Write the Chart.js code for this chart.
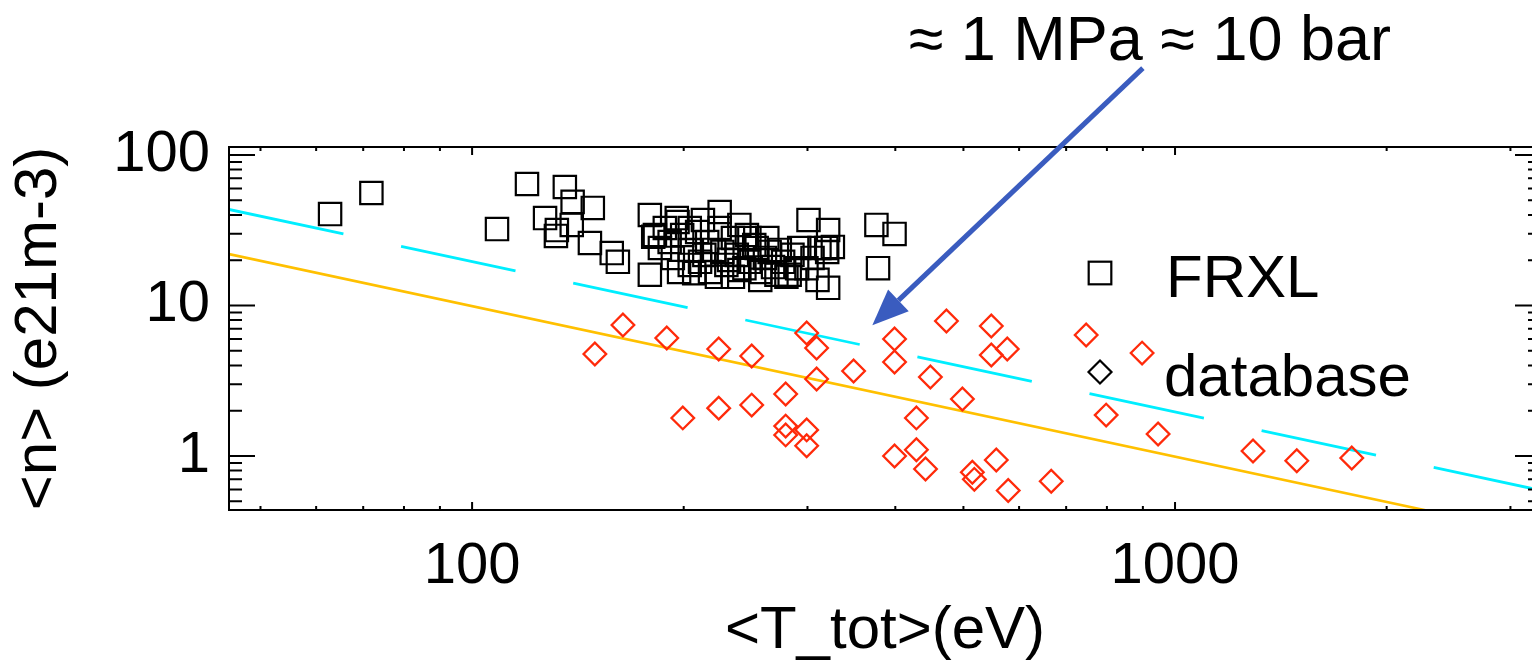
<!DOCTYPE html>
<html>
<head>
<meta charset="utf-8">
<script src="https://cdn.jsdelivr.net/npm/chart.js@4.4.1/dist/chart.umd.min.js"></script>
<style>
  html, body { margin: 0; padding: 0; background: #fff; }
  #wrap { width: 1532px; height: 667px; }
</style>
</head>
<body>
<div id="wrap"><canvas id="plot"></canvas></div>
<script>
// FRXL shots: <T_tot> in eV, <n> in 1e21 m^-3
const frxlT = [62.8, 71.9, 108.5, 119.7, 135.5, 127, 132, 131.6, 139, 148.5, 138.6, 147.1, 158, 161.2, 179, 179,
  181, 195.5, 225, 204, 263, 285.6, 301, 321, 326, 320, 312, 310, 321, 376, 399, 378,
  182, 185, 191, 193, 199, 204, 209, 211, 216, 218, 225, 227, 230, 235, 238, 240, 246, 248, 254, 257,
  265, 268, 271, 277, 280, 290, 197, 207, 223, 235, 196, 188, 213, 240, 248, 292, 299, 305, 319,
  214, 221, 232, 244, 252, 261, 274, 283, 204, 257];
const frxlN = [40.5, 55.9, 32.2, 64.2, 61.3, 38.1, 31.7, 29.0, 48.8, 44.5, 34.3, 26.0, 22.3, 19.5, 39.9, 16.0,
  28.6, 38.1, 41.8, 32.7, 28.1, 21.7, 37.0, 31.7, 24.5, 22.7, 24.1, 14.8, 13.1, 34.3, 29.9, 17.7,
  29.4, 24.1, 26.4, 20.7, 29.4, 23.4, 30.8, 19.5, 26.4, 16.7, 32.7, 22.7, 18.6, 28.1, 21.7, 17.2, 29.4, 19.5, 24.1, 16.7,
  22.7, 18.0, 16.0, 19.5, 15.5, 17.7, 16.7, 16.4, 15.5, 15.5, 35.9, 32.7, 37.0, 34.3, 28.1, 24.1, 17.7, 20.7, 24.1,
  21.7, 23.4, 20.1, 17.7, 25.2, 20.7, 23.4, 16.0, 18.6, 14.8];

// database shots
const dbT = [149.5, 163.9, 189.2, 199.4, 224.3, 224.3, 249.9, 249.9, 279.3, 279.3, 279.3, 299.2, 309.1, 309.1,
  299.2, 299.2, 348.9, 399, 399, 399, 428.6, 428.6, 441.6, 448.7, 472.9, 498.3, 514.8, 518.2, 547.8, 547.8,
  577.2, 556.8, 579, 666.6, 747.4, 798, 897.7, 946, 1291, 1490, 1784];
const dbN = [4.76, 7.42, 6.08, 1.79, 5.14, 2.08, 4.62, 2.18, 2.58, 1.58, 1.38, 6.56, 5.22, 3.25,
  1.49, 1.17, 3.67, 5.99, 4.21, 1.0, 1.79, 1.10, 0.82, 3.35, 7.89, 2.39, 0.78, 0.70, 7.31, 4.69,
  5.14, 0.94, 0.59, 0.68, 6.37, 1.87, 4.83, 1.40, 1.08, 0.93, 0.97];

// constant n*T lines, end points at the axis limits
const isobarT = [45.1, 3316];
const isobarLowN = [21.95, 0.2986];
const isobarHighN = [43.46, 0.591];

// axes
const xRange = [45.1, 3316];
const yRange = [0.4377, 113];
const xMajor = [100, 1000];
const xMinor = [50, 60, 70, 80, 90, 200, 300, 400, 500, 600, 700, 800, 900, 2000, 3000];
const yMajor = [1, 10, 100];
const yMinor = [0.5, 0.6, 0.7, 0.8, 0.9, 2, 3, 4, 5, 6, 7, 8, 9, 20, 30, 40, 50, 60, 70, 80, 90];

// annotation arrow (data coordinates)
const arrowFrom = { x: 900, y: 378 };
const arrowTo = { x: 371, y: 7.4 };
const arrowText = '\u2248 1 MPa \u2248 10 bar';

const FONT = '"Liberation Sans", Arial, Helvetica, sans-serif';
const RED = '#ff2a0a';
const BLUE = '#3a5cbf';
const FRAME_OVERHANG = 9;   // right side of the box runs just past the canvas edge
Chart.defaults.font.family = FONT;
Chart.defaults.color = '#000';

const pts = (xs, ys) => xs.map((x, i) => ({ x: x, y: ys[i] }));

function square(ctx, x, y, r) {
  const h = r * Math.SQRT1_2;
  ctx.strokeRect(x - h, y - h, 2 * h, 2 * h);
}
function diamond(ctx, x, y, r) {
  ctx.beginPath();
  ctx.moveTo(x - r, y); ctx.lineTo(x, y - r); ctx.lineTo(x + r, y); ctx.lineTo(x, y + r);
  ctx.closePath();
  ctx.stroke();
}

// box with inward IDL-style ticks on all four sides
const frame = {
  id: 'frame',
  afterLayout(chart) {
    const a = chart.chartArea, x = chart.scales.x;
    a.right += FRAME_OVERHANG;
    a.width = a.right - a.left;
    x.right = a.right;
    x.width = x.right - x.left;
    x.configure();
  },
  afterDatasetsDraw(chart) {
    const { ctx, chartArea: a, scales: { x, y } } = chart;
    ctx.save();
    ctx.strokeStyle = '#000';
    ctx.lineWidth = 2;
    ctx.strokeRect(a.left, a.top, a.right - a.left, a.bottom - a.top);
    ctx.beginPath();
    const xt = (v, len) => {
      const px = x.getPixelForValue(v);
      ctx.moveTo(px, a.bottom); ctx.lineTo(px, a.bottom - len);
      ctx.moveTo(px, a.top); ctx.lineTo(px, a.top + len);
    };
    const yt = (v, len) => {
      const py = y.getPixelForValue(v);
      ctx.moveTo(a.left, py); ctx.lineTo(a.left + len, py);
      ctx.moveTo(a.right, py); ctx.lineTo(a.right - len, py);
    };
    xMajor.forEach(v => xt(v, 8));
    xMinor.forEach(v => xt(v, 4));
    yMajor.forEach(v => yt(v, 26));
    yMinor.forEach(v => yt(v, 13));
    ctx.stroke();
    ctx.restore();
  },
  afterDraw(chart) {
    const { ctx, scales: { x, y } } = chart;
    ctx.save();
    // legend
    ctx.lineWidth = 2.2;
    ctx.strokeStyle = '#000';
    square(ctx, 1100, 273, 16);
    diamond(ctx, 1100, 372, 11.5);
    ctx.fillStyle = '#000';
    ctx.font = '60px ' + FONT;
    ctx.textAlign = 'left';
    ctx.textBaseline = 'alphabetic';
    ctx.fillText('FRXL', 1166, 297);
    ctx.fillText('database', 1164, 396);

    // pressure annotation with arrow
    const x0 = x.getPixelForValue(arrowFrom.x), y0 = y.getPixelForValue(arrowFrom.y);
    const x1 = x.getPixelForValue(arrowTo.x), y1 = y.getPixelForValue(arrowTo.y);
    const ang = Math.atan2(y1 - y0, x1 - x0);
    const headLen = 36, headW = 15;
    const bx = x1 - headLen * Math.cos(ang), by = y1 - headLen * Math.sin(ang);
    ctx.strokeStyle = BLUE;
    ctx.fillStyle = BLUE;
    ctx.lineWidth = 5;
    ctx.beginPath();
    ctx.moveTo(x0, y0); ctx.lineTo(bx, by);
    ctx.stroke();
    ctx.beginPath();
    ctx.moveTo(x1, y1);
    ctx.lineTo(bx + headW * Math.sin(ang), by - headW * Math.cos(ang));
    ctx.lineTo(bx - headW * Math.sin(ang), by + headW * Math.cos(ang));
    ctx.closePath();
    ctx.fill();

    ctx.fillStyle = '#000';
    ctx.font = '63px ' + FONT;
    ctx.textAlign = 'center';
    ctx.fillText(arrowText, x0 + 7, y0 - 8);
    ctx.restore();
  }
};

new Chart(document.getElementById('plot'), {
  type: 'scatter',
  data: {
    datasets: [
      {
        label: 'FRXL',
        data: pts(frxlT, frxlN),
        pointStyle: 'rect',
        pointRadius: 15.8,
        pointBorderWidth: 2.2,
        borderColor: '#000',
        backgroundColor: 'rgba(0,0,0,0)'
      },
      {
        label: 'database',
        data: pts(dbT, dbN),
        pointStyle: 'rectRot',
        pointRadius: 11.3,
        pointBorderWidth: 2.3,
        borderColor: RED,
        backgroundColor: 'rgba(0,0,0,0)'
      },
      {
        label: '2x',
        data: pts(isobarT, isobarHighN),
        showLine: true,
        pointRadius: 0,
        borderColor: '#00eeff',
        borderWidth: 2.8,
        borderDash: [117, 59]
      },
      {
        label: '1x',
        data: pts(isobarT, isobarLowN),
        showLine: true,
        pointRadius: 0,
        borderColor: '#ffc000',
        borderWidth: 2.6
      }
    ]
  },
  options: {
    responsive: true,
    maintainAspectRatio: false,
    animation: false,
    events: [],
    layout: { autoPadding: false, padding: { top: 147, right: 0, left: 0, bottom: 0 } },
    plugins: { legend: { display: false }, tooltip: { enabled: false } },
    scales: {
      x: {
        type: 'logarithmic',
        position: 'bottom',
        min: xRange[0],
        max: xRange[1],
        afterBuildTicks: s => { s.ticks = xMajor.map(v => ({ value: v })); },
        afterFit: s => {
          s.height = 157;
          s.paddingLeft = 0;
          s.paddingRight = 0;
        },
        grid: { display: false, drawTicks: false },
        border: { display: false },
        ticks: { font: { size: 58 }, padding: 22, maxRotation: 0, autoSkip: false, callback: v => String(v) },
        title: { display: true, text: '<T_tot>(eV)', font: { size: 60 }, padding: 0 }
      },
      y: {
        type: 'logarithmic',
        position: 'left',
        min: yRange[0],
        max: yRange[1],
        afterBuildTicks: s => { s.ticks = yMajor.map(v => ({ value: v })); },
        afterFit: s => {
          s.width = 229;
          s.paddingTop = 0;
          s.paddingBottom = 0;
        },
        grid: { display: false, drawTicks: false },
        border: { display: false },
        ticks: { font: { size: 58 }, padding: 19, autoSkip: false, callback: v => String(v) },
        title: { display: true, text: '<n> (e21m-3)', font: { size: 60 }, padding: { top: 3, bottom: 0 } }
      }
    }
  },
  plugins: [frame]
});
</script>
</body>
</html>
